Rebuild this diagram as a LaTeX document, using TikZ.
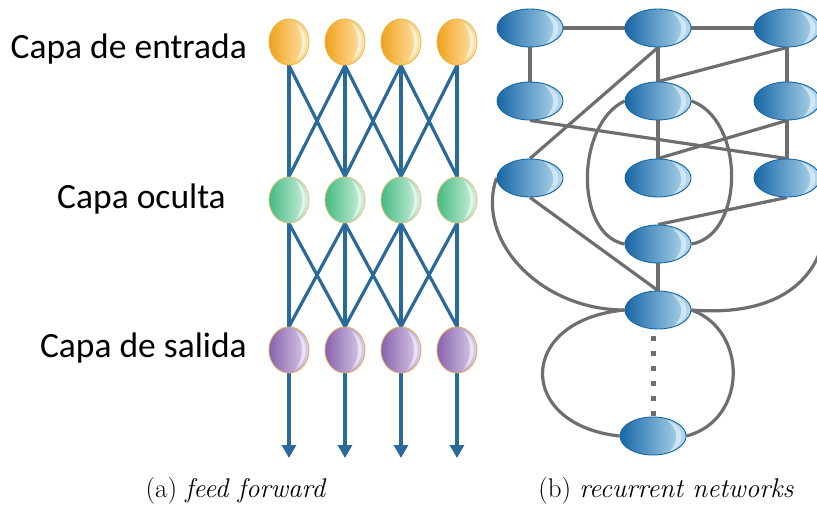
\documentclass[tikz,border=0pt]{standalone}
\usepackage{fontspec}
\newfontfamily\calibri{Carlito}
\usetikzlibrary{shapes.geometric,arrows.meta,backgrounds,calc}
\definecolor{bline}{HTML}{2A6A9A}
\definecolor{gline}{HTML}{6E6E6E}
\definecolor{oL}{HTML}{F0A11C}\definecolor{oM}{HTML}{F4B63E}\definecolor{oR}{HTML}{FDE6B2}\definecolor{oB}{HTML}{EDB33C}
\definecolor{gL}{HTML}{45BA80}\definecolor{gM}{HTML}{68C797}\definecolor{gR}{HTML}{D2F0E0}\definecolor{gB}{HTML}{D9C47A}
\definecolor{pL}{HTML}{8762AC}\definecolor{pM}{HTML}{9C7DBC}\definecolor{pR}{HTML}{DED2EC}\definecolor{pB}{HTML}{D9A55A}
\definecolor{uL}{HTML}{1867A6}\definecolor{uM}{HTML}{2B7DB8}\definecolor{uR}{HTML}{B8DCF0}\definecolor{uB}{HTML}{1766A6}
\tikzset{
  ball/.style={ellipse, minimum width=40pt, minimum height=46pt, inner sep=0pt, line width=0.8pt,
    path picture={\begin{scope}[shift={(path picture bounding box.center)}]
      \fill[white,opacity=.55] (7,-19) .. controls (20,-10) and (20,10) .. (7,19) .. controls (15,8) and (15,-8) .. (7,-19);
    \end{scope}}},
  oball/.style={ball, draw=oB, left color=oL, middle color=oM, right color=oR},
  gball/.style={ball, draw=gB, left color=gL, middle color=gM, right color=gR},
  pball/.style={ball, draw=pB, left color=pL, middle color=pM, right color=pR},
  rnode/.style={ellipse, minimum width=66pt, minimum height=38pt, inner sep=0pt, line width=0.9pt,
    draw=uB, left color=uL, middle color=uM, right color=uR,
    path picture={\begin{scope}[shift={(path picture bounding box.center)}]
      \fill[white,opacity=.5] (14,-16) .. controls (33,-10) and (33,10) .. (16,16) .. controls (26,6) and (26,-6) .. (14,-16);
    \end{scope}}},
  bedge/.style={draw=bline, line width=3.2pt},
  gedge/.style={draw=gline, line width=3.2pt},
  layerlabel/.style={font=\calibri\fontsize{35.5}{40}\selectfont, anchor=base east, inner sep=0pt},
  caption/.style={font=\fontsize{27}{31}\selectfont, anchor=base, inner sep=0pt},
}
\begin{document}
\begin{tikzpicture}[x=1pt,y=-1pt]
\useasboundingbox (0,0) rectangle (817,504);
% ---------- (a) feed forward ----------
\node[layerlabel] (l1) at (247,58) {Capa de entrada};
\node[layerlabel] (l2) at (226,208) {Capa oculta};
\node[layerlabel] (l3) at (247,357) {Capa de salida};
\foreach \i/\x in {1/289,2/345,3/401,4/457}{
  \node[oball] (o\i) at (\x,42) {};
  \node[gball] (g\i) at (\x,200) {};
  \node[pball] (p\i) at (\x,350) {};
  \coordinate (e\i) at (\x,458);
}
\begin{scope}[on background layer]
\foreach \i in {1,...,4}{
  \foreach \j in {1,...,4}{
    \pgfmathtruncatemacro{\d}{abs(\i-\j)}
    \ifnum\d<2
      \draw[bedge] (o\i.south) -- (g\j.north);
      \draw[bedge] (g\i.south) -- (p\j.north);
    \fi
  }
  \draw[bedge,-{Triangle[width=14pt,length=13pt]}] (p\i.south) -- (e\i);
}
\end{scope}
% ---------- (b) recurrent networks ----------
\node[rnode] (t1) at (530,28) {};
\node[rnode] (t2) at (658,28) {};
\node[rnode] (t3) at (787,28) {};
\node[rnode] (m1) at (530,101) {};
\node[rnode] (m2) at (658,101) {};
\node[rnode] (m3) at (787,101) {};
\node[rnode] (r1) at (530,178) {};
\node[rnode] (r2) at (658,178) {};
\node[rnode] (r3) at (787,178) {};
\node[rnode] (q) at (658,244) {};
\node[rnode] (p) at (658,310) {};
\node[rnode] (b) at (653,436) {};
\begin{scope}[on background layer]
\draw[gedge] (t1) -- (t2);
\draw[gedge] (t2) -- (t3);
\draw[gedge] (t1) -- (m1);
\draw[gedge] (t2) -- (m2);
\draw[gedge] (t3) -- (m3);
\draw[gedge] (m2) -- (r2);
\draw[gedge] (m3) -- (r3);
\draw[gedge] (q) -- (p);
\draw[gedge] (t2.south) -- (r1.north);
\draw[gedge] (t3.south) -- (m2.north);
\draw[gedge] (m1.south) -- (r3.north);
\draw[gedge] (m3.south) -- (r2.north);
\draw[gedge] (r3.south) -- (q.north);
\draw[gedge] (r1.south) -- (p.north);
\draw[gedge] (m2.west) .. controls (575,125) and (575,235) .. (q.west);
\draw[gedge] (m2.east) .. controls (745,120) and (745,235) .. (q.east);
\draw[gedge] (r1.west) .. controls (475,240) and (540,310) .. (p.west);
\draw[gedge] (p.east) .. controls (815,320) and (840,240) .. (r3.east);
\draw[gedge] (p.west) .. controls (516,320) and (516,425) .. (b.west);
\draw[gedge] (p.east) .. controls (748,330) and (748,420) .. (b.east);
\draw[draw=gline, line width=5pt, dash pattern=on 5pt off 10pt] ($(p.south -| b.north)+(0,7)$) -- ($(b.north)+(0,-1)$);
\end{scope}
% ---------- captions ----------
\node[caption] (ca) at (236,497) {(a) \textit{feed forward}};
\node[caption] (cb) at (666,497) {(b) \textit{recurrent networks}};
\end{tikzpicture}
\end{document}
